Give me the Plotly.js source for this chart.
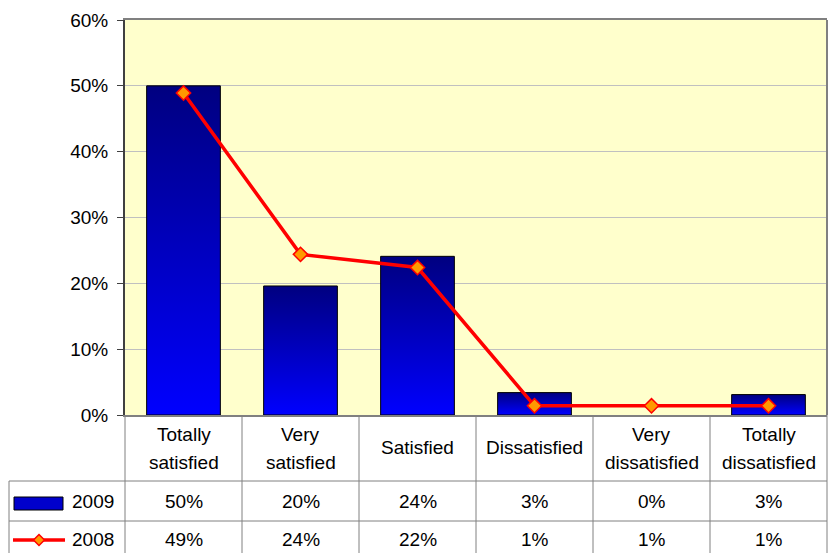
<!DOCTYPE html>
<html>
<head>
<meta charset="utf-8">
<script src="https://cdn.plot.ly/plotly-3.0.1.min.js"></script>
<style>
  html, body { margin: 0; padding: 0; background: #ffffff; }
  #chart { width: 830px; height: 553px; }
</style>
</head>
<body>
<div id="chart"></div>
<script>
// ---- data ----
const categories = ['Totally<br>satisfied', 'Very<br>satisfied', 'Satisfied', 'Dissatisfied', 'Very<br>dissatisfied', 'Totally<br>dissatisfied'];
const series2009 = [0.500, 0.196, 0.241, 0.034, 0.000, 0.031];
const series2008 = [0.489, 0.244, 0.224, 0.014, 0.014, 0.014];
const seriesNames = ['2009', '2008'];
const yTickVals = [0, 0.1, 0.2, 0.3, 0.4, 0.5, 0.6];
const yTickText = ['0%', '10%', '20%', '30%', '40%', '50%', '60%'];

// ---- layout helpers (pixel -> paper) ----
const W = 830, H = 553;
const L = 125, R = 827, T = 20, B = 415;
const px = x => (x - L) / (R - L);
const py = y => (B - y) / (B - T);
const FONT = 'Liberation Sans, Arial, sans-serif';
const GRID = '#808080';

const traces = [
  {
    type: 'bar',
    name: seriesNames[0],
    x: categories,
    y: series2009,
    width: 0.63,
    marker: { color: '#0000CC', line: { color: '#000000', width: series2009.map(v => (v > 0 ? 1 : 0)) } },
    hoverinfo: 'skip',
    showlegend: false
  },
  {
    type: 'scatter',
    mode: 'lines+markers',
    name: seriesNames[1],
    x: categories,
    y: series2008,
    line: { color: '#FF0000', width: 3.5 },
    marker: { symbol: 'diamond', size: 11, color: '#FF9900', line: { color: '#FF0000', width: 1.5 } },
    hoverinfo: 'skip',
    showlegend: false
  }
];

const shapes = [];
const annotations = [];
const lineStyle = { color: GRID, width: 1 };

// right border of plot area
shapes.push({ type: 'line', xref: 'paper', yref: 'paper', x0: 1, x1: 1, y0: 0, y1: 1, line: { color: GRID, width: 2 } });

// table horizontal lines
[481, 521].forEach(yy => {
  shapes.push({ type: 'line', xref: 'paper', yref: 'paper', x0: px(9), x1: 1, y0: py(yy), y1: py(yy), line: lineStyle });
});
// legend column left border
shapes.push({ type: 'line', xref: 'paper', yref: 'paper', x0: px(9), x1: px(9), y0: py(481), y1: py(560), line: lineStyle });
// column separators
for (let k = 0; k <= categories.length; k++) {
  const xx = k / categories.length;
  shapes.push({ type: 'line', xref: 'paper', yref: 'paper', x0: xx, x1: xx, y0: 0, y1: py(560), line: lineStyle });
}

// category header text
categories.forEach((c, i) => {
  const lines = c.split('<br>');
  const centers = lines.length === 2 ? [434, 462] : [447];
  lines.forEach((ln, j) => {
    annotations.push({ xref: 'x', yref: 'paper', x: i, y: py(centers[j]), text: ln, showarrow: false,
      xanchor: 'center', yanchor: 'middle', font: { family: FONT, size: 19, color: '#000000' } });
  });
});

// value rows
const fmt = v => Math.round(v * 100) + '%';
const rows = [{ vals: series2009, yc: 501 }, { vals: series2008, yc: 539 }];
rows.forEach(r => {
  r.vals.forEach((v, i) => {
    annotations.push({ xref: 'x', yref: 'paper', x: i, y: py(r.yc), text: fmt(v), showarrow: false,
      xanchor: 'center', yanchor: 'middle', font: { family: FONT, size: 19, color: '#000000' } });
  });
});
// legend labels
annotations.push({ xref: 'paper', yref: 'paper', x: px(70), y: py(501), text: seriesNames[0], showarrow: false,
  xanchor: 'left', yanchor: 'middle', font: { family: FONT, size: 19, color: '#000000' } });
annotations.push({ xref: 'paper', yref: 'paper', x: px(70), y: py(539), text: seriesNames[1], showarrow: false,
  xanchor: 'left', yanchor: 'middle', font: { family: FONT, size: 19, color: '#000000' } });

// legend keys
shapes.push({ type: 'rect', xref: 'paper', yref: 'paper', x0: px(14), x1: px(63), y0: py(510), y1: py(497),
  fillcolor: '#0000CC', line: { color: '#000000', width: 1 } });
shapes.push({ type: 'line', xref: 'paper', yref: 'paper', x0: px(13), x1: px(65), y0: py(540), y1: py(540),
  line: { color: '#FF0000', width: 3.5 } });
shapes.push({ type: 'path', xref: 'paper', yref: 'paper',
  path: `M ${px(39)},${py(534.5)} L ${px(44.5)},${py(540)} L ${px(39)},${py(545.5)} L ${px(33.5)},${py(540)} Z`,
  fillcolor: '#FF9900', line: { color: '#FF0000', width: 1.5 } });

const layout = {
  width: W,
  height: H,
  margin: { l: L, r: W - R, t: T, b: H - B, pad: 0 },
  paper_bgcolor: '#FFFFFF',
  plot_bgcolor: '#FFFFCC',
  showlegend: false,
  font: { family: FONT, size: 19, color: '#000000' },
  xaxis: {
    type: 'category',
    range: [-0.5, categories.length - 0.5],
    showticklabels: false,
    ticks: '',
    showgrid: false,
    zeroline: false,
    showline: true,
    mirror: true,
    linecolor: GRID,
    linewidth: 2,
    fixedrange: true
  },
  yaxis: {
    range: [0, 0.6],
    tickvals: yTickVals,
    ticktext: yTickText,
    ticks: 'outside',
    ticklen: 6,
    tickcolor: '#404040',
    tickwidth: 1,
    ticklabelstandoff: 5,
    showgrid: true,
    gridcolor: '#C0C0C0',
    gridwidth: 1,
    zeroline: false,
    showline: true,
    linecolor: '#404040',
    linewidth: 2,
    tickfont: { family: FONT, size: 19, color: '#000000' },
    fixedrange: true
  },
  shapes: shapes,
  annotations: annotations
};

const gd = document.getElementById('chart');
Plotly.newPlot(gd, traces, layout, { displayModeBar: false, staticPlot: true }).then(() => {
  const NS = 'http://www.w3.org/2000/svg';
  const svg = gd.querySelector('svg.main-svg');
  let defs = svg.querySelector('defs');
  if (!defs) { defs = document.createElementNS(NS, 'defs'); svg.insertBefore(defs, svg.firstChild); }
  const grad = document.createElementNS(NS, 'linearGradient');
  grad.setAttribute('id', 'barGrad');
  grad.setAttribute('x1', '0'); grad.setAttribute('y1', '0');
  grad.setAttribute('x2', '0'); grad.setAttribute('y2', '1');
  [['0', '#000080'], ['1', '#0000FF']].forEach(([o, c]) => {
    const s = document.createElementNS(NS, 'stop');
    s.setAttribute('offset', o); s.setAttribute('stop-color', c);
    grad.appendChild(s);
  });
  defs.appendChild(grad);
  gd.querySelectorAll('.barlayer .trace .point path').forEach(p => { p.style.fill = 'url(#barGrad)'; });
});
</script>
</body>
</html>
